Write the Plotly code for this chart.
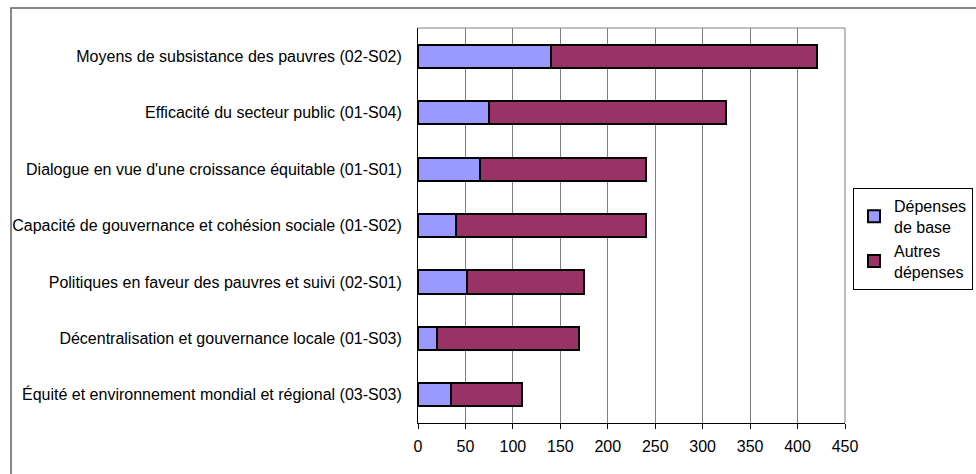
import plotly.graph_objects as go

# Programme areas, listed top to bottom
categories = [
    "Moyens de subsistance des pauvres (02-S02)",
    "Efficacité du secteur public (01-S04)",
    "Dialogue en vue d'une croissance équitable (01-S01)",
    "Capacité de gouvernance et cohésion sociale (01-S02)",
    "Politiques en faveur des pauvres et suivi (02-S01)",
    "Décentralisation et gouvernance locale (01-S03)",
    "Équité et environnement mondial et régional (03-S03)",
]
depenses_base = [140, 75, 65, 40, 52, 20, 35]
autres_depenses = [280, 250, 175, 200, 123, 150, 75]
x_ticks = [0, 50, 100, 150, 200, 250, 300, 350, 400, 450]

FONT = "Liberation Sans, Arial, sans-serif"
FS = 16

fig = go.Figure()
fig.add_trace(go.Bar(
    y=categories, x=depenses_base, orientation="h",
    name="Dépenses<br>de base",
    marker=dict(color="#9999FF", line=dict(color="black", width=2)),
))
fig.add_trace(go.Bar(
    y=categories, x=autres_depenses, orientation="h",
    name="Autres<br>dépenses",
    marker=dict(color="#993366", line=dict(color="black", width=2)),
))

# Plot area in pixels: x 418..845, y 28..423
L, R, T, B = 418, 845, 28, 423
W, H = 976, 474
pw, ph = R - L, B - T

def px_x(p):
    return (p - L) / pw

def px_y(p):
    return (B - p) / ph

fig.update_layout(
    width=W, height=H,
    margin=dict(l=L, r=W - R, t=T, b=H - B, pad=0, autoexpand=False),
    barmode="stack",
    bargap=0.59,
    paper_bgcolor="white",
    plot_bgcolor="white",
    font=dict(family=FONT, size=FS, color="black"),
    xaxis=dict(
        range=[0, 450], tickvals=x_ticks, ticktext=[str(v) for v in x_ticks],
        showgrid=True, gridcolor="#808080", gridwidth=1,
        showline=True, linecolor="black", linewidth=1,
        ticks="outside", ticklen=5, tickcolor="black",
        ticklabelstandoff=4,
        zeroline=False, mirror=False,
        tickfont=dict(size=FS),
    ),
    yaxis=dict(
        categoryorder="array", categoryarray=categories,
        autorange="reversed",
        showline=True, linecolor="black", linewidth=1,
        ticks="", ticklabelstandoff=12,
        showgrid=False, zeroline=False,
        tickfont=dict(size=FS),
    ),
    legend=dict(
        x=px_x(853), y=px_y(188), xanchor="left", yanchor="top",
        bordercolor="black", borderwidth=1, bgcolor="white",
        traceorder="normal", itemwidth=30,
        font=dict(size=FS),
        tracegroupgap=0,
    ),
    shapes=[
        # plot area frame (top and right edges)
        dict(type="line", xref="paper", yref="paper", x0=0, x1=1, y0=1, y1=1,
             line=dict(color="#808080", width=1)),
        dict(type="line", xref="paper", yref="paper", x0=1, x1=1, y0=0, y1=1,
             line=dict(color="#808080", width=1)),
        # chart area border
        dict(type="rect", xref="paper", yref="paper",
             x0=px_x(11), x1=px_x(990), y0=px_y(490), y1=px_y(8),
             line=dict(color="#606060", width=1.5), layer="below"),
    ],
)

fig.write_html("out.html")
